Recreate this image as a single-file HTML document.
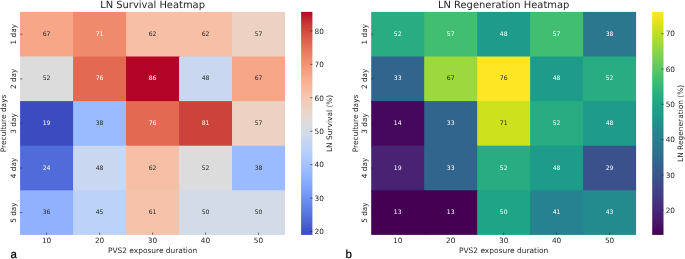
<!DOCTYPE html>
<html><head><meta charset="utf-8"><title>LN Heatmaps</title>
<style>
html,body{margin:0;padding:0;background:#ffffff;}
svg{display:block;will-change:transform;text-rendering:geometricPrecision;font-family:"DejaVu Sans","Liberation Sans",sans-serif;}
</style></head>
<body>
<svg width="685" height="259" viewBox="0 0 685 259">
<rect x="0" y="0" width="685" height="259" fill="#ffffff"/>
<rect x="20.10" y="11.90" width="54.18" height="45.80" fill="#f7a688"/>
<rect x="73.08" y="11.90" width="54.18" height="45.80" fill="#f08a6c"/>
<rect x="126.06" y="11.90" width="54.18" height="45.80" fill="#f6bfa6"/>
<rect x="179.04" y="11.90" width="54.18" height="45.80" fill="#f6bfa6"/>
<rect x="232.02" y="11.90" width="52.98" height="45.80" fill="#edd1c2"/>
<rect x="20.10" y="56.50" width="54.18" height="45.80" fill="#dddcdc"/>
<rect x="73.08" y="56.50" width="54.18" height="45.80" fill="#e26952"/>
<rect x="126.06" y="56.50" width="54.18" height="45.80" fill="#b40426"/>
<rect x="179.04" y="56.50" width="54.18" height="45.80" fill="#c9d7f0"/>
<rect x="232.02" y="56.50" width="52.98" height="45.80" fill="#f7a688"/>
<rect x="20.10" y="101.10" width="54.18" height="45.80" fill="#3b4cc0"/>
<rect x="73.08" y="101.10" width="54.18" height="45.80" fill="#9abbff"/>
<rect x="126.06" y="101.10" width="54.18" height="45.80" fill="#e26952"/>
<rect x="179.04" y="101.10" width="54.18" height="45.80" fill="#cd423b"/>
<rect x="232.02" y="101.10" width="52.98" height="45.80" fill="#edd1c2"/>
<rect x="20.10" y="145.70" width="54.18" height="45.80" fill="#506bda"/>
<rect x="73.08" y="145.70" width="54.18" height="45.80" fill="#c9d7f0"/>
<rect x="126.06" y="145.70" width="54.18" height="45.80" fill="#f6bfa6"/>
<rect x="179.04" y="145.70" width="54.18" height="45.80" fill="#dddcdc"/>
<rect x="232.02" y="145.70" width="52.98" height="45.80" fill="#9abbff"/>
<rect x="20.10" y="190.30" width="54.18" height="44.60" fill="#8fb1fe"/>
<rect x="73.08" y="190.30" width="54.18" height="44.60" fill="#bcd2f7"/>
<rect x="126.06" y="190.30" width="54.18" height="44.60" fill="#f5c2aa"/>
<rect x="179.04" y="190.30" width="54.18" height="44.60" fill="#d3dbe7"/>
<rect x="232.02" y="190.30" width="52.98" height="44.60" fill="#d3dbe7"/>
<text x="46.59" y="35.88" font-size="6.1" text-anchor="middle" fill="#262626">67</text>
<text x="99.57" y="35.88" font-size="6.1" text-anchor="middle" fill="#ffffff">71</text>
<text x="152.55" y="35.88" font-size="6.1" text-anchor="middle" fill="#262626">62</text>
<text x="205.53" y="35.88" font-size="6.1" text-anchor="middle" fill="#262626">62</text>
<text x="258.51" y="35.88" font-size="6.1" text-anchor="middle" fill="#262626">57</text>
<text x="46.59" y="80.48" font-size="6.1" text-anchor="middle" fill="#262626">52</text>
<text x="99.57" y="80.48" font-size="6.1" text-anchor="middle" fill="#ffffff">76</text>
<text x="152.55" y="80.48" font-size="6.1" text-anchor="middle" fill="#ffffff">86</text>
<text x="205.53" y="80.48" font-size="6.1" text-anchor="middle" fill="#262626">48</text>
<text x="258.51" y="80.48" font-size="6.1" text-anchor="middle" fill="#262626">67</text>
<text x="46.59" y="125.08" font-size="6.1" text-anchor="middle" fill="#ffffff">19</text>
<text x="99.57" y="125.08" font-size="6.1" text-anchor="middle" fill="#262626">38</text>
<text x="152.55" y="125.08" font-size="6.1" text-anchor="middle" fill="#ffffff">76</text>
<text x="205.53" y="125.08" font-size="6.1" text-anchor="middle" fill="#ffffff">81</text>
<text x="258.51" y="125.08" font-size="6.1" text-anchor="middle" fill="#262626">57</text>
<text x="46.59" y="169.68" font-size="6.1" text-anchor="middle" fill="#ffffff">24</text>
<text x="99.57" y="169.68" font-size="6.1" text-anchor="middle" fill="#262626">48</text>
<text x="152.55" y="169.68" font-size="6.1" text-anchor="middle" fill="#262626">62</text>
<text x="205.53" y="169.68" font-size="6.1" text-anchor="middle" fill="#262626">52</text>
<text x="258.51" y="169.68" font-size="6.1" text-anchor="middle" fill="#262626">38</text>
<text x="46.59" y="214.28" font-size="6.1" text-anchor="middle" fill="#262626">36</text>
<text x="99.57" y="214.28" font-size="6.1" text-anchor="middle" fill="#262626">45</text>
<text x="152.55" y="214.28" font-size="6.1" text-anchor="middle" fill="#262626">61</text>
<text x="205.53" y="214.28" font-size="6.1" text-anchor="middle" fill="#262626">50</text>
<text x="258.51" y="214.28" font-size="6.1" text-anchor="middle" fill="#262626">50</text>
<line x1="46.59" x2="46.59" y1="232.60" y2="234.90" stroke="#262626" stroke-width="0.6"/>
<text x="46.59" y="243.3" font-size="7.35" text-anchor="middle" fill="#262626">10</text>
<line x1="99.57" x2="99.57" y1="232.60" y2="234.90" stroke="#262626" stroke-width="0.6"/>
<text x="99.57" y="243.3" font-size="7.35" text-anchor="middle" fill="#262626">20</text>
<line x1="152.55" x2="152.55" y1="232.60" y2="234.90" stroke="#262626" stroke-width="0.6"/>
<text x="152.55" y="243.3" font-size="7.35" text-anchor="middle" fill="#262626">30</text>
<line x1="205.53" x2="205.53" y1="232.60" y2="234.90" stroke="#262626" stroke-width="0.6"/>
<text x="205.53" y="243.3" font-size="7.35" text-anchor="middle" fill="#262626">40</text>
<line x1="258.51" x2="258.51" y1="232.60" y2="234.90" stroke="#262626" stroke-width="0.6"/>
<text x="258.51" y="243.3" font-size="7.35" text-anchor="middle" fill="#262626">50</text>
<line x1="20.10" x2="22.40" y1="34.20" y2="34.20" stroke="#262626" stroke-width="0.6"/>
<text transform="translate(16.25,34.20) rotate(-90)" font-size="7.35" text-anchor="middle" fill="#262626">1 day</text>
<line x1="20.10" x2="22.40" y1="78.80" y2="78.80" stroke="#262626" stroke-width="0.6"/>
<text transform="translate(16.25,78.80) rotate(-90)" font-size="7.35" text-anchor="middle" fill="#262626">2 day</text>
<line x1="20.10" x2="22.40" y1="123.40" y2="123.40" stroke="#262626" stroke-width="0.6"/>
<text transform="translate(16.25,123.40) rotate(-90)" font-size="7.35" text-anchor="middle" fill="#262626">3 day</text>
<line x1="20.10" x2="22.40" y1="168.00" y2="168.00" stroke="#262626" stroke-width="0.6"/>
<text transform="translate(16.25,168.00) rotate(-90)" font-size="7.35" text-anchor="middle" fill="#262626">4 day</text>
<line x1="20.10" x2="22.40" y1="212.60" y2="212.60" stroke="#262626" stroke-width="0.6"/>
<text transform="translate(16.25,212.60) rotate(-90)" font-size="7.35" text-anchor="middle" fill="#262626">5 day</text>
<text x="152.55" y="252.9" font-size="7.45" text-anchor="middle" fill="#262626">PVS2 exposure duration</text>
<text transform="translate(6.45,123.40) rotate(-90)" font-size="7.45" text-anchor="middle" fill="#262626">Preculture days</text>
<text x="152.55" y="8.1" font-size="9.93" text-anchor="middle" fill="#262626">LN Survival Heatmap</text>
<defs><linearGradient id="g1" x1="0" y1="0" x2="0" y2="1"><stop offset="0.0000" stop-color="#b40426"/><stop offset="0.0213" stop-color="#bb1b2c"/><stop offset="0.0426" stop-color="#c32e31"/><stop offset="0.0638" stop-color="#cb3e38"/><stop offset="0.0851" stop-color="#d1493f"/><stop offset="0.1064" stop-color="#d85646"/><stop offset="0.1277" stop-color="#de614d"/><stop offset="0.1489" stop-color="#e36c55"/><stop offset="0.1702" stop-color="#e8765c"/><stop offset="0.1915" stop-color="#ec8165"/><stop offset="0.2128" stop-color="#f08a6c"/><stop offset="0.2340" stop-color="#f29274"/><stop offset="0.2553" stop-color="#f59c7d"/><stop offset="0.2766" stop-color="#f6a385"/><stop offset="0.2979" stop-color="#f7ac8e"/><stop offset="0.3191" stop-color="#f7b396"/><stop offset="0.3404" stop-color="#f7ba9f"/><stop offset="0.3617" stop-color="#f5c0a7"/><stop offset="0.3830" stop-color="#f3c7b1"/><stop offset="0.4043" stop-color="#f1ccb8"/><stop offset="0.4255" stop-color="#eed0c0"/><stop offset="0.4468" stop-color="#ead5c9"/><stop offset="0.4681" stop-color="#e5d8d1"/><stop offset="0.4894" stop-color="#dfdbd9"/><stop offset="0.5106" stop-color="#dadce0"/><stop offset="0.5319" stop-color="#d4dbe6"/><stop offset="0.5532" stop-color="#cedaeb"/><stop offset="0.5745" stop-color="#c7d7f0"/><stop offset="0.5957" stop-color="#c1d4f4"/><stop offset="0.6170" stop-color="#bbd1f8"/><stop offset="0.6383" stop-color="#b3cdfb"/><stop offset="0.6596" stop-color="#adc9fd"/><stop offset="0.6809" stop-color="#a5c3fe"/><stop offset="0.7021" stop-color="#9ebeff"/><stop offset="0.7234" stop-color="#96b7ff"/><stop offset="0.7447" stop-color="#8fb1fe"/><stop offset="0.7660" stop-color="#86a9fc"/><stop offset="0.7872" stop-color="#80a3fa"/><stop offset="0.8085" stop-color="#799cf8"/><stop offset="0.8298" stop-color="#7093f3"/><stop offset="0.8511" stop-color="#6a8bef"/><stop offset="0.8723" stop-color="#6282ea"/><stop offset="0.8936" stop-color="#5b7ae5"/><stop offset="0.9149" stop-color="#5470de"/><stop offset="0.9362" stop-color="#4e68d8"/><stop offset="0.9574" stop-color="#465ecf"/><stop offset="0.9787" stop-color="#4055c8"/><stop offset="1.0000" stop-color="#3b4cc0"/></linearGradient></defs>
<rect x="301.10" y="11.90" width="11.3" height="223.00" fill="url(#g1)"/>
<line x1="310.10" x2="312.40" y1="231.56" y2="231.56" stroke="#262626" stroke-width="0.6"/>
<text x="314.60" y="234.24" font-size="7.35" fill="#262626">20</text>
<line x1="310.10" x2="312.40" y1="198.12" y2="198.12" stroke="#262626" stroke-width="0.6"/>
<text x="314.60" y="200.80" font-size="7.35" fill="#262626">30</text>
<line x1="310.10" x2="312.40" y1="164.69" y2="164.69" stroke="#262626" stroke-width="0.6"/>
<text x="314.60" y="167.37" font-size="7.35" fill="#262626">40</text>
<line x1="310.10" x2="312.40" y1="131.26" y2="131.26" stroke="#262626" stroke-width="0.6"/>
<text x="314.60" y="133.94" font-size="7.35" fill="#262626">50</text>
<line x1="310.10" x2="312.40" y1="97.82" y2="97.82" stroke="#262626" stroke-width="0.6"/>
<text x="314.60" y="100.50" font-size="7.35" fill="#262626">60</text>
<line x1="310.10" x2="312.40" y1="64.39" y2="64.39" stroke="#262626" stroke-width="0.6"/>
<text x="314.60" y="67.07" font-size="7.35" fill="#262626">70</text>
<line x1="310.10" x2="312.40" y1="30.96" y2="30.96" stroke="#262626" stroke-width="0.6"/>
<text x="314.60" y="33.64" font-size="7.35" fill="#262626">80</text>
<text transform="translate(332.10,123.40) rotate(-90)" font-size="7.45" text-anchor="middle" fill="#262626">LN Survival (%)</text>
<text x="10.6" y="258.2" font-size="11.5" font-family="'Liberation Sans', sans-serif" fill="#000000" stroke="#000000" stroke-width="0.2">a</text>
<rect x="371.20" y="11.90" width="54.18" height="45.80" fill="#27ad81"/>
<rect x="424.18" y="11.90" width="54.18" height="45.80" fill="#42be71"/>
<rect x="477.16" y="11.90" width="54.18" height="45.80" fill="#1e9c89"/>
<rect x="530.14" y="11.90" width="54.18" height="45.80" fill="#42be71"/>
<rect x="583.12" y="11.90" width="52.98" height="45.80" fill="#2a778e"/>
<rect x="371.20" y="56.50" width="54.18" height="45.80" fill="#32658e"/>
<rect x="424.18" y="56.50" width="54.18" height="45.80" fill="#9bd93c"/>
<rect x="477.16" y="56.50" width="54.18" height="45.80" fill="#fde725"/>
<rect x="530.14" y="56.50" width="54.18" height="45.80" fill="#1e9c89"/>
<rect x="583.12" y="56.50" width="52.98" height="45.80" fill="#27ad81"/>
<rect x="371.20" y="101.10" width="54.18" height="45.80" fill="#46085c"/>
<rect x="424.18" y="101.10" width="54.18" height="45.80" fill="#32658e"/>
<rect x="477.16" y="101.10" width="54.18" height="45.80" fill="#cde11d"/>
<rect x="530.14" y="101.10" width="54.18" height="45.80" fill="#27ad81"/>
<rect x="583.12" y="101.10" width="52.98" height="45.80" fill="#1e9c89"/>
<rect x="371.20" y="145.70" width="54.18" height="45.80" fill="#482374"/>
<rect x="424.18" y="145.70" width="54.18" height="45.80" fill="#32658e"/>
<rect x="477.16" y="145.70" width="54.18" height="45.80" fill="#27ad81"/>
<rect x="530.14" y="145.70" width="54.18" height="45.80" fill="#1e9c89"/>
<rect x="583.12" y="145.70" width="52.98" height="45.80" fill="#3b518b"/>
<rect x="371.20" y="190.30" width="54.18" height="44.60" fill="#440154"/>
<rect x="424.18" y="190.30" width="54.18" height="44.60" fill="#440154"/>
<rect x="477.16" y="190.30" width="54.18" height="44.60" fill="#20a486"/>
<rect x="530.14" y="190.30" width="54.18" height="44.60" fill="#26828e"/>
<rect x="583.12" y="190.30" width="52.98" height="44.60" fill="#238a8d"/>
<text x="397.69" y="35.88" font-size="6.1" text-anchor="middle" fill="#ffffff">52</text>
<text x="450.67" y="35.88" font-size="6.1" text-anchor="middle" fill="#ffffff">57</text>
<text x="503.65" y="35.88" font-size="6.1" text-anchor="middle" fill="#ffffff">48</text>
<text x="556.63" y="35.88" font-size="6.1" text-anchor="middle" fill="#ffffff">57</text>
<text x="609.61" y="35.88" font-size="6.1" text-anchor="middle" fill="#ffffff">38</text>
<text x="397.69" y="80.48" font-size="6.1" text-anchor="middle" fill="#ffffff">33</text>
<text x="450.67" y="80.48" font-size="6.1" text-anchor="middle" fill="#262626">67</text>
<text x="503.65" y="80.48" font-size="6.1" text-anchor="middle" fill="#262626">76</text>
<text x="556.63" y="80.48" font-size="6.1" text-anchor="middle" fill="#ffffff">48</text>
<text x="609.61" y="80.48" font-size="6.1" text-anchor="middle" fill="#ffffff">52</text>
<text x="397.69" y="125.08" font-size="6.1" text-anchor="middle" fill="#ffffff">14</text>
<text x="450.67" y="125.08" font-size="6.1" text-anchor="middle" fill="#ffffff">33</text>
<text x="503.65" y="125.08" font-size="6.1" text-anchor="middle" fill="#262626">71</text>
<text x="556.63" y="125.08" font-size="6.1" text-anchor="middle" fill="#ffffff">52</text>
<text x="609.61" y="125.08" font-size="6.1" text-anchor="middle" fill="#ffffff">48</text>
<text x="397.69" y="169.68" font-size="6.1" text-anchor="middle" fill="#ffffff">19</text>
<text x="450.67" y="169.68" font-size="6.1" text-anchor="middle" fill="#ffffff">33</text>
<text x="503.65" y="169.68" font-size="6.1" text-anchor="middle" fill="#ffffff">52</text>
<text x="556.63" y="169.68" font-size="6.1" text-anchor="middle" fill="#ffffff">48</text>
<text x="609.61" y="169.68" font-size="6.1" text-anchor="middle" fill="#ffffff">29</text>
<text x="397.69" y="214.28" font-size="6.1" text-anchor="middle" fill="#ffffff">13</text>
<text x="450.67" y="214.28" font-size="6.1" text-anchor="middle" fill="#ffffff">13</text>
<text x="503.65" y="214.28" font-size="6.1" text-anchor="middle" fill="#ffffff">50</text>
<text x="556.63" y="214.28" font-size="6.1" text-anchor="middle" fill="#ffffff">41</text>
<text x="609.61" y="214.28" font-size="6.1" text-anchor="middle" fill="#ffffff">43</text>
<line x1="397.69" x2="397.69" y1="232.60" y2="234.90" stroke="#262626" stroke-width="0.6"/>
<text x="397.69" y="243.3" font-size="7.35" text-anchor="middle" fill="#262626">10</text>
<line x1="450.67" x2="450.67" y1="232.60" y2="234.90" stroke="#262626" stroke-width="0.6"/>
<text x="450.67" y="243.3" font-size="7.35" text-anchor="middle" fill="#262626">20</text>
<line x1="503.65" x2="503.65" y1="232.60" y2="234.90" stroke="#262626" stroke-width="0.6"/>
<text x="503.65" y="243.3" font-size="7.35" text-anchor="middle" fill="#262626">30</text>
<line x1="556.63" x2="556.63" y1="232.60" y2="234.90" stroke="#262626" stroke-width="0.6"/>
<text x="556.63" y="243.3" font-size="7.35" text-anchor="middle" fill="#262626">40</text>
<line x1="609.61" x2="609.61" y1="232.60" y2="234.90" stroke="#262626" stroke-width="0.6"/>
<text x="609.61" y="243.3" font-size="7.35" text-anchor="middle" fill="#262626">50</text>
<line x1="371.20" x2="373.50" y1="34.20" y2="34.20" stroke="#262626" stroke-width="0.6"/>
<text transform="translate(367.35,34.20) rotate(-90)" font-size="7.35" text-anchor="middle" fill="#262626">1 day</text>
<line x1="371.20" x2="373.50" y1="78.80" y2="78.80" stroke="#262626" stroke-width="0.6"/>
<text transform="translate(367.35,78.80) rotate(-90)" font-size="7.35" text-anchor="middle" fill="#262626">2 day</text>
<line x1="371.20" x2="373.50" y1="123.40" y2="123.40" stroke="#262626" stroke-width="0.6"/>
<text transform="translate(367.35,123.40) rotate(-90)" font-size="7.35" text-anchor="middle" fill="#262626">3 day</text>
<line x1="371.20" x2="373.50" y1="168.00" y2="168.00" stroke="#262626" stroke-width="0.6"/>
<text transform="translate(367.35,168.00) rotate(-90)" font-size="7.35" text-anchor="middle" fill="#262626">4 day</text>
<line x1="371.20" x2="373.50" y1="212.60" y2="212.60" stroke="#262626" stroke-width="0.6"/>
<text transform="translate(367.35,212.60) rotate(-90)" font-size="7.35" text-anchor="middle" fill="#262626">5 day</text>
<text x="503.65" y="252.9" font-size="7.45" text-anchor="middle" fill="#262626">PVS2 exposure duration</text>
<text transform="translate(357.55,123.40) rotate(-90)" font-size="7.45" text-anchor="middle" fill="#262626">Preculture days</text>
<text x="503.65" y="8.1" font-size="9.93" text-anchor="middle" fill="#262626">LN Regeneration Heatmap</text>
<defs><linearGradient id="g2" x1="0" y1="0" x2="0" y2="1"><stop offset="0.0000" stop-color="#fde725"/><stop offset="0.0213" stop-color="#f1e51d"/><stop offset="0.0426" stop-color="#e5e419"/><stop offset="0.0638" stop-color="#d5e21a"/><stop offset="0.0851" stop-color="#c8e020"/><stop offset="0.1064" stop-color="#b8de29"/><stop offset="0.1277" stop-color="#aadc32"/><stop offset="0.1489" stop-color="#9bd93c"/><stop offset="0.1702" stop-color="#8ed645"/><stop offset="0.1915" stop-color="#7fd34e"/><stop offset="0.2128" stop-color="#73d056"/><stop offset="0.2340" stop-color="#67cc5c"/><stop offset="0.2553" stop-color="#5ac864"/><stop offset="0.2766" stop-color="#50c46a"/><stop offset="0.2979" stop-color="#44bf70"/><stop offset="0.3191" stop-color="#3bbb75"/><stop offset="0.3404" stop-color="#32b67a"/><stop offset="0.3617" stop-color="#2cb17e"/><stop offset="0.3830" stop-color="#25ac82"/><stop offset="0.4043" stop-color="#22a785"/><stop offset="0.4255" stop-color="#1fa287"/><stop offset="0.4468" stop-color="#1e9d89"/><stop offset="0.4681" stop-color="#1f988b"/><stop offset="0.4894" stop-color="#20928c"/><stop offset="0.5106" stop-color="#218e8d"/><stop offset="0.5319" stop-color="#23888e"/><stop offset="0.5532" stop-color="#25838e"/><stop offset="0.5745" stop-color="#277e8e"/><stop offset="0.5957" stop-color="#29798e"/><stop offset="0.6170" stop-color="#2b748e"/><stop offset="0.6383" stop-color="#2e6f8e"/><stop offset="0.6596" stop-color="#306a8e"/><stop offset="0.6809" stop-color="#32648e"/><stop offset="0.7021" stop-color="#355f8d"/><stop offset="0.7234" stop-color="#38598c"/><stop offset="0.7447" stop-color="#3a538b"/><stop offset="0.7660" stop-color="#3d4d8a"/><stop offset="0.7872" stop-color="#3f4788"/><stop offset="0.8085" stop-color="#424186"/><stop offset="0.8298" stop-color="#443a83"/><stop offset="0.8511" stop-color="#463480"/><stop offset="0.8723" stop-color="#472d7b"/><stop offset="0.8936" stop-color="#482677"/><stop offset="0.9149" stop-color="#481f70"/><stop offset="0.9362" stop-color="#48186a"/><stop offset="0.9574" stop-color="#471063"/><stop offset="0.9787" stop-color="#46085c"/><stop offset="1.0000" stop-color="#440154"/></linearGradient></defs>
<rect x="652.20" y="11.90" width="11.3" height="223.00" fill="url(#g2)"/>
<line x1="661.20" x2="663.50" y1="210.20" y2="210.20" stroke="#262626" stroke-width="0.6"/>
<text x="665.70" y="212.88" font-size="7.35" fill="#262626">20</text>
<line x1="661.20" x2="663.50" y1="174.92" y2="174.92" stroke="#262626" stroke-width="0.6"/>
<text x="665.70" y="177.59" font-size="7.35" fill="#262626">30</text>
<line x1="661.20" x2="663.50" y1="139.63" y2="139.63" stroke="#262626" stroke-width="0.6"/>
<text x="665.70" y="142.31" font-size="7.35" fill="#262626">40</text>
<line x1="661.20" x2="663.50" y1="104.35" y2="104.35" stroke="#262626" stroke-width="0.6"/>
<text x="665.70" y="107.03" font-size="7.35" fill="#262626">50</text>
<line x1="661.20" x2="663.50" y1="69.06" y2="69.06" stroke="#262626" stroke-width="0.6"/>
<text x="665.70" y="71.74" font-size="7.35" fill="#262626">60</text>
<line x1="661.20" x2="663.50" y1="33.78" y2="33.78" stroke="#262626" stroke-width="0.6"/>
<text x="665.70" y="36.46" font-size="7.35" fill="#262626">70</text>
<text transform="translate(683.20,123.40) rotate(-90)" font-size="7.45" text-anchor="middle" fill="#262626">LN Regeneration (%)</text>
<text x="345.5" y="258.2" font-size="11.5" font-family="'Liberation Sans', sans-serif" fill="#000000" stroke="#000000" stroke-width="0.2">b</text>
</svg>
</body></html>
